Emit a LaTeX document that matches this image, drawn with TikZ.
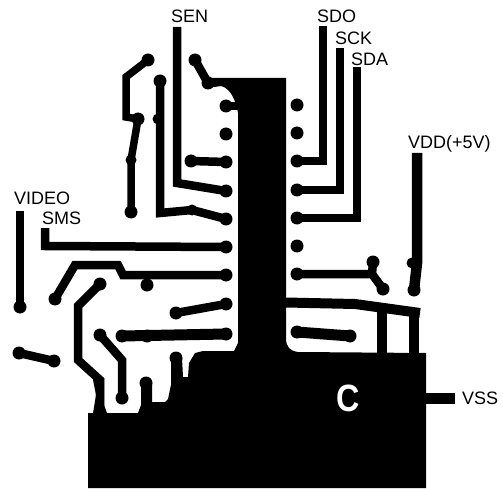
\documentclass[tikz,border=0pt]{standalone}
\usepackage{fontspec}
\setmainfont{Liberation Sans}
\usetikzlibrary{positioning}
\tikzset{pad/.style={circle, fill=black, inner sep=0pt, minimum size=13pt}}
\tikzset{via/.style={circle, fill=black, inner sep=0pt, minimum size=11pt}}
\tikzset{trace/.style={draw=black, line width=8.5pt}}
\tikzset{pin/.style={inner sep=0pt, text depth=0pt, font=\fontsize{18}{20}\selectfont}}
\begin{document}
\begin{tikzpicture}[x=1pt, y=-1pt]
    \useasboundingbox (0,0) rectangle (503,489);
    % ground plane
    \fill[black] (210,78) -- (286,78) -- (286,338) .. controls (286,347) and (290,351) .. (298,352)
    -- (426,353) -- (426,488) -- (88,488) -- (88,413) -- (93,413) -- (96,395) -- (93,380)
    -- (104,378) -- (104,405) -- (107,413) -- (138,413) -- (141,405) -- (141,385) -- (152,385)
    -- (152,402) -- (165,402) -- (168,399) -- (172,380) -- (171,358) -- (182,358) -- (183,377)
    -- (188,377) -- (189,363) -- (195,353) -- (203,351) -- (234,351) -- (238,343) -- (238,113)
    .. controls (236,100) and (230,88) .. (221,86) -- (208,88) -- cycle;
    % pads along the package
    \foreach \n/\y in {1/106, 2/134, 3/162, 4/191, 5/219, 6/247, 7/275, 8/304, 9/334}
        \node[pad] (l\n) at (226,\y) {};
    \foreach \n/\y in {1/105, 2/133, 3/161, 4/190, 5/218, 6/246, 7/274, 8/332}
        \node[pad] (r\n) at (297,\y) {};
    % loose pads
    \node[pad] (a1) at (148,60) {};
    \node[pad] (a2) at (138,119) {};
    \node[via] (a3) at (131,160) {};
    \node[pad] (a4) at (131,212) {};
    \node[pad] (b1) at (160,81) {};
    \node[via] (b2) at (158,119) {};
    \node[via] (b3) at (192,210) {};
    \node[pad] (c1) at (195,60) {};
    \node[pad] (c2) at (208,83) {};
    \node[pad] (d1) at (191,161) {};
    \node[pad] (v1) at (20,307) {};
    \node[pad] (e1) at (55,299) {};
    \node[pad] (e2) at (147,285) {};
    \node[pad] (f1) at (100,284) {};
    \node[pad] (g1) at (176,313) {};
    \node[pad] (h1) at (122,336) {};
    \node[pad] (h2) at (147,336) {};
    \node[pad] (i1) at (100,335) {};
    \node[pad] (i2) at (122,398) {};
    \node[pad] (j1) at (19,353) {};
    \node[pad] (j2) at (54,361) {};
    \node[pad] (k1) at (146,383) {};
    \node[pad] (k2) at (176,358) {};
    \node[pad] (m1) at (350,336) {};
    \node[pad] (n1) at (373,262) {};
    \node[pad] (n2) at (383,289) {};
    \node[via] (o1) at (412,263) {};
    \node[pad] (o2) at (414,290) {};
    % free ends of the lines
    \coordinate (sen) at (177,27);
    \coordinate (sdo) at (323,26);
    \coordinate (sck) at (340,48);
    \coordinate (sda) at (357,67);
    \coordinate (vdd) at (417,153);
    \coordinate (video) at (20,211);
    \coordinate (sms) at (45,228);
    \coordinate (vss) at (455,398);
    % traces
    \draw[trace] (sen) -- (177,183) -- (l4.center);
    \draw[trace] (sdo) -- (323,161) -- (r3.center);
    \draw[trace] (sck) -- (340,190) -- (r4.center);
    \draw[trace] (sda) -- (357,218) -- (r5.center);
    \draw[trace, line width=7.5pt] (a1.center) -- (126,77) -- (126,117) -- (a2.center);
    \draw[trace, line width=7.5pt] (a2.center) -- (a3.center) -- (a4.center);
    \draw[trace] (b1.center) -- (160,213) -- (b3.center) -- (l5.center);
    \draw[trace] (c1.center) -- (c2.center);
    \draw[trace] (d1.center) -- (l3.center);
    \draw[trace] (l1.center) -- (238,106);
    \draw[trace] (sms) -- (45,246) -- (l6.center);
    \draw[trace] (video) -- (v1.center);
    \draw[trace] (e1.center) -- (75,265) -- (118,265) -- (123,275) -- (l7.center);
    \draw[trace] (f1.center) -- (78,306) -- (78,360) -- (100,380) -- (100,414);
    \draw[trace] (g1.center) -- (l8.center);
    \draw[trace, line width=11pt] (h1.center) -- (l9.center);
    \draw[trace] (i1.center) -- (122,360) -- (i2.center);
    \draw[trace] (j1.center) -- (j2.center);
    \draw[trace, line width=10pt] (k1.center) -- (146,405);
    \draw[trace, line width=10pt] (k2.center) -- (176,385);
    \draw[trace] (r7.center) -- (372,274) -- (n2.center);
    \draw[trace] (n1.center) -- (372,274);
    \draw[trace, line width=10pt] (286,302.5) -- (355,304) -- (420,313);
    \draw[trace, line width=10pt] (382,305) -- (382,354);
    \draw[trace, line width=10pt] (414,312) -- (414,354);
    \draw[trace, line width=11pt] (r8.center) -- (m1.center);
    \draw[trace, line width=10.5pt] (vdd) -- (417,263) -- (o2.center);
    \draw[trace, line width=11pt] (426,398) -- (vss);
    % labels
    \node[pin, above right=4pt and -6pt of sen] (lsen) {SEN};
    \node[pin, above right=3pt and -6pt of sdo] (lsdo) {SDO};
    \node[pin, above right=3pt and -5pt of sck] (lsck) {SCK};
    \node[pin, above right=1pt and -6pt of sda] (lsda) {SDA};
    \node[pin, above right=4pt and -9pt of vdd] (lvdd) {VDD(+5V)};
    \node[pin, above right=6pt and -6pt of video] (lvideo) {VIDEO};
    \node[pin, above right=3pt and -3pt of sms] (lsms) {SMS};
    \node[pin, right=7pt of vss] (lvss) {VSS};
    \node[text=white, inner sep=0pt, xscale=0.85, font=\fontsize{38}{40}\selectfont\bfseries] (chip) at (348,398) {C};
\end{tikzpicture}
\end{document}
